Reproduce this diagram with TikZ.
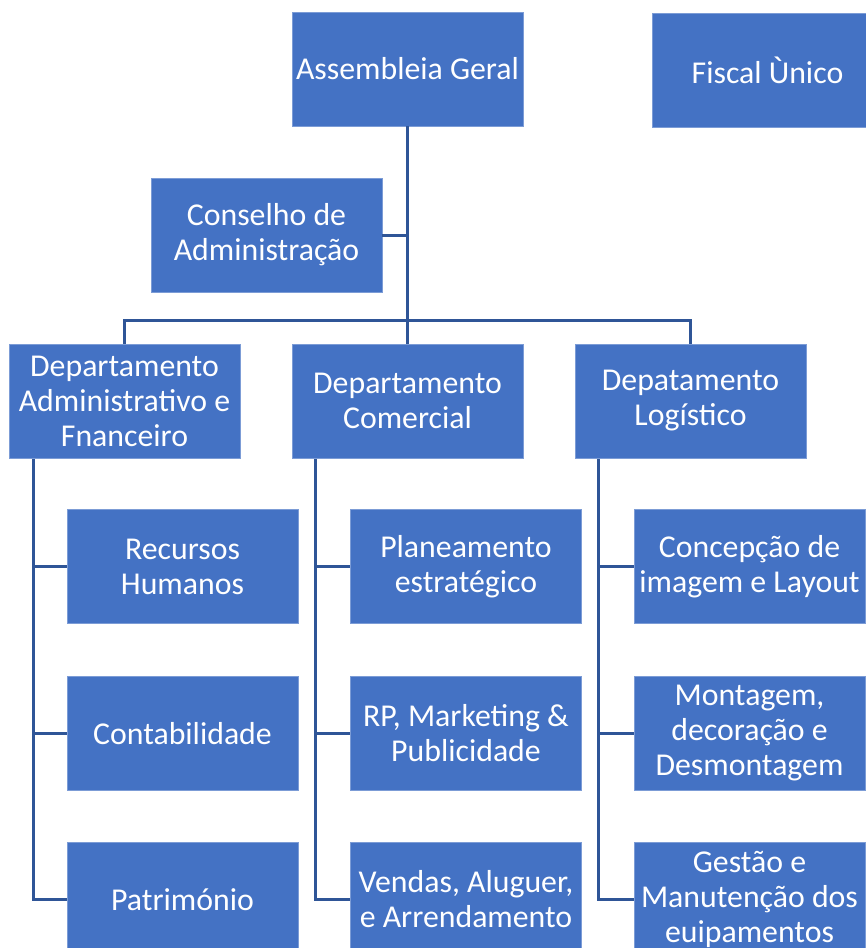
\documentclass[tikz,border=0pt]{standalone}
\usepackage{fontspec}
\setmainfont{Carlito}
\definecolor{boxblue}{HTML}{4472C4}
\definecolor{lineblue}{HTML}{2F5597}
\begin{document}
\begin{tikzpicture}[x=0.5pt, y=-0.5pt,
    unit/.style={rectangle, fill=boxblue, draw=boxblue!70!white, line width=0.4pt, text=white,
        minimum width=115.5pt, minimum height=57pt, inner sep=1pt, align=center,
        font=\fontsize{15.9}{17.5}\selectfont},
    link/.style={draw=lineblue, line width=1.5pt}]
\useasboundingbox (0,0) rectangle (866,948);
\begin{scope}
\clip (0,0) rectangle (866,948);
        % Topo
        \node[unit] (AG) at (407.5,69) {Assembleia Geral};
        \node[unit] (FU) at (767.5,70.5) {Fiscal Ùnico};
        \node[unit] (CA) at (266.5,235) {Conselho de\\Administração};

        % Departamentos
        \node[unit] (DAF) at (124.5,401) {Departamento\\Administrativo e\\Fnanceiro};
        \node[unit] (DC) at (407.5,401) {Departamento\\Comercial};
        \node[unit] (DL) at (690.5,401) {Depatamento\\Logístico};

        % Secções
        \node[unit] (RH) at (182.5,566.5) {Recursos\\Humanos};
        \node[unit] (CO) at (182.5,733.5) {Contabilidade};
        \node[unit] (PA) at (182.5,899.5) {Património};
        \node[unit] (PE) at (466,566.5) {Planeamento\\estratégico};
        \node[unit] (MK) at (466,733.5) {RP, Marketing \&\\Publicidade};
        \node[unit] (VE) at (466,899.5) {Vendas, Aluguer,\\e Arrendamento};
        \node[unit] (CI) at (749.5,566.5) {Concepção de\\imagem e Layout};
        \node[unit] (MD) at (749.5,733.5) {Montagem,\\decoração e\\Desmontagem};
        \node[unit] (GM) at (749.5,899.5) {Gestão e\\Manutenção dos\\euipamentos};

        % Ligações
        \coordinate (bus) at (408,320);
        \draw[link] (AG.south) -- (AG.south |- DC.north);
        \draw[link] (CA.east) -- (CA.east -| AG.south);
        \draw[link] (DAF.north) |- (bus) -| (DL.north);
        \coordinate (tDAF) at (33,459);
        \coordinate (tDC) at (315.5,459);
        \coordinate (tDL) at (598,459);
        \foreach \t/\a/\b/\c in {tDAF/RH/CO/PA, tDC/PE/MK/VE, tDL/CI/MD/GM}{
            \draw[link] (\t) |- (\c.west);
            \draw[link] (\t |- \a.west) -- (\a.west);
            \draw[link] (\t |- \b.west) -- (\b.west);
        }
\end{scope}
\end{tikzpicture}
\end{document}
